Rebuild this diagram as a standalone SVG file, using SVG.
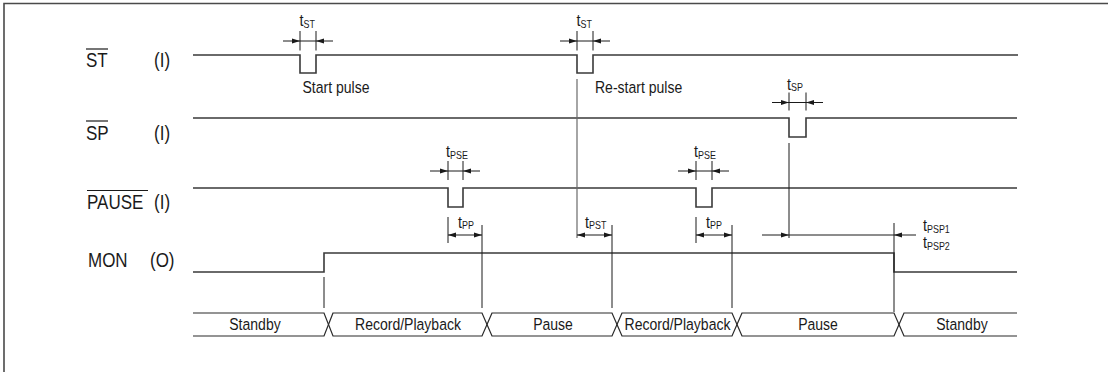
<svg xmlns="http://www.w3.org/2000/svg" xmlns:xlink="http://www.w3.org/1999/xlink" width="1108" height="372" viewBox="0 0 1108 372">
<style>
.frame{fill:none;stroke:#4a4a4a;stroke-width:1.6}
.sig{fill:none;stroke:#3a3a3a;stroke-width:1.6}
.bus{fill:none;stroke:#2a2a2a;stroke-width:1.2}
.thin{fill:none;stroke:#1a1a1a;stroke-width:1}
.grey{fill:none;stroke:#6a6a6a;stroke-width:1.2}
.ol{stroke:#1a1a1a;stroke-width:1.2}
.hd{fill:#1a1a1a}
text{font-family:"Liberation Sans",Arial,sans-serif;fill:#1a1a1a}
.lab{font-size:20px}
.txt{font-size:16.5px}
.st{font-size:16.5px;text-anchor:middle}
.t{font-size:17px}
.sub{font-size:10.5px}
</style>
<defs>
<path id="hr" d="M0,0 l-8,-2.5 v5 z"/>
<path id="hl" d="M0,0 l8,-2.5 v5 z"/>
</defs>
<path class="frame" d="M4,380 V3.5 H1112"/>
<g id="sig-ST"><path class="sig" d="M193,55 H300 V73 H316 V55 H577 V73 H593 V55 H1018"/></g>
<g id="sig-SP"><path class="sig" d="M193,118 H789 V137 H806 V118 H1017"/></g>
<g id="sig-PAUSE"><path class="sig" d="M193,188 H448 V207 H463 V188 H696 V207 H712 V188 H1017"/></g>
<g id="sig-MON"><path class="sig" d="M193,272 H324 V253 H894 V272 H1017"/></g>
<g id="states">
<path class="bus" d="M193,313 H324 L328.5,324.5 L324,336 H193"/>
<path class="bus" d="M333,313 L328.5,324.5 L333,336 H482 L487,324.5 L482,313 Z"/>
<path class="bus" d="M492,313 L487,324.5 L492,336 H612 L617,324.5 L612,313 Z"/>
<path class="bus" d="M622,313 L617,324.5 L622,336 H732 L737,324.5 L732,313 Z"/>
<path class="bus" d="M742,313 L737,324.5 L742,336 H894 L899,324.5 L894,313 Z"/>
<path class="bus" d="M1017,313 H904 L899,324.5 L904,336 H1017"/>
</g>
<g id="connectors">
<path class="thin" d="M300,31 V50.5 M316,31 V50.5 M283,41 H333"/>
<use href="#hr" x="300" y="41" class="hd"/><use href="#hl" x="316" y="41" class="hd"/>
<path class="thin" d="M577,31 V50.5 M593,31 V50.5 M560,41 H610"/>
<use href="#hr" x="577" y="41" class="hd"/><use href="#hl" x="593" y="41" class="hd"/>
<path class="thin" d="M789,92.5 V110.5 M806,92.5 V110.5 M772,102.5 H823"/>
<use href="#hr" x="789" y="102.5" class="hd"/><use href="#hl" x="806" y="102.5" class="hd"/>
<path class="thin" d="M448,161 V180 M463,161 V180 M430,171 H480"/>
<use href="#hr" x="448" y="171" class="hd"/><use href="#hl" x="463" y="171" class="hd"/>
<path class="thin" d="M696,161 V180 M712,161 V180 M678,171 H729"/>
<use href="#hr" x="696" y="171" class="hd"/><use href="#hl" x="712" y="171" class="hd"/>
<path class="grey" d="M577,79 V238"/>
<path class="thin" d="M448,217 V243 M482,225 V308 M448,235 H482"/>
<use href="#hl" x="448" y="235" class="hd"/><use href="#hr" x="482" y="235" class="hd"/>
<path class="thin" d="M612,225 V308 M577,235 H612"/>
<use href="#hl" x="577" y="235" class="hd"/><use href="#hr" x="612" y="235" class="hd"/>
<path class="thin" d="M696,217 V243 M732,225 V308 M696,235 H732"/>
<use href="#hl" x="696" y="235" class="hd"/><use href="#hr" x="732" y="235" class="hd"/>
<path class="thin" d="M789,143 V238 M894,223 V312 M762,235 H916"/>
<use href="#hr" x="789" y="235" class="hd"/><use href="#hl" x="894" y="235" class="hd"/>
<path class="thin" d="M324,277 V308"/>
</g>
<g id="overlines">
<line class="ol" x1="86" y1="49" x2="108" y2="49"/>
<line class="ol" x1="86" y1="121" x2="108" y2="121"/>
<line class="ol" x1="87" y1="190.5" x2="148" y2="190.5"/>
</g>
<g id="labels" transform="scale(0.85,1)">
<text class="lab" x="101.18" y="67.5">ST</text>
<text class="lab" x="181.18" y="67.5">(I)</text>
<text class="lab" x="101.18" y="140">SP</text>
<text class="lab" x="181.18" y="140">(I)</text>
<text class="lab" x="102.35" y="209.5">PAUSE</text>
<text class="lab" x="181.18" y="209.5">(I)</text>
<text class="lab" x="103.53" y="267">MON</text>
<text class="lab" x="176.47" y="267">(O)</text>
<text class="txt" x="355.88" y="93.5">Start pulse</text>
<text class="txt" x="700" y="93.5">Re-start pulse</text>
<text class="st" x="300" y="330">Standby</text>
<text class="st" x="480" y="330">Record/Playback</text>
<text class="st" x="650.59" y="330">Pause</text>
<text class="st" x="797.06" y="330">Record/Playback</text>
<text class="st" x="962.35" y="330">Pause</text>
<text class="st" x="1131.76" y="330">Standby</text>
<text class="t" x="352.35" y="26.5">t<tspan class="sub" dy="1.5">ST</tspan></text>
<text class="t" x="678.24" y="26.5">t<tspan class="sub" dy="1.5">ST</tspan></text>
<text class="t" x="925.88" y="90">t<tspan class="sub" dy="1.5">SP</tspan></text>
<text class="t" x="524.71" y="157.5">t<tspan class="sub" dy="1.5">PSE</tspan></text>
<text class="t" x="816.47" y="157.5">t<tspan class="sub" dy="1.5">PSE</tspan></text>
<text class="t" x="538.82" y="228">t<tspan class="sub" dy="1.5">PP</tspan></text>
<text class="t" x="688.24" y="228">t<tspan class="sub" dy="1.5">PST</tspan></text>
<text class="t" x="830.59" y="228">t<tspan class="sub" dy="1.5">PP</tspan></text>
<text class="t" x="1085.88" y="231.5">t<tspan class="sub" dy="1.5">PSP1</tspan></text>
<text class="t" x="1085.88" y="248.5">t<tspan class="sub" dy="1.5">PSP2</tspan></text>
</g>
</svg>
